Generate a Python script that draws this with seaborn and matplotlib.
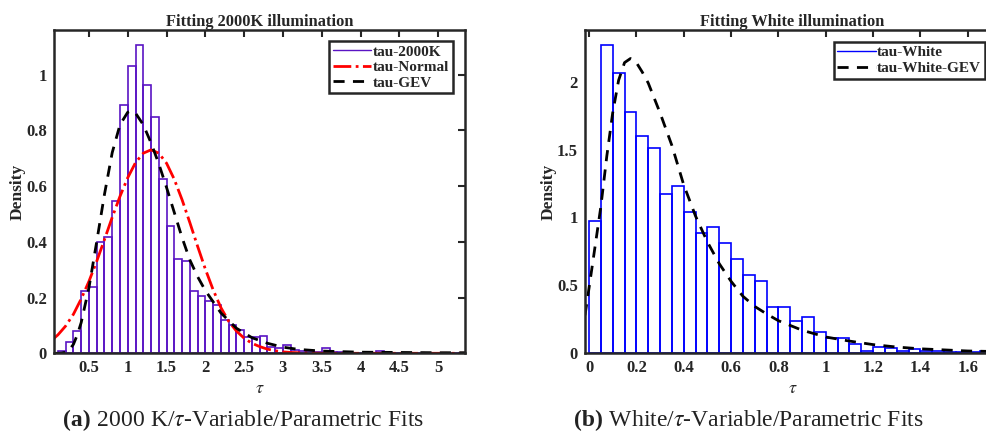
import numpy as np
import pandas as pd
import matplotlib
matplotlib.use('Agg')
import matplotlib.pyplot as plt
from matplotlib.lines import Line2D
from matplotlib.ticker import FuncFormatter
import seaborn as sns

# ---- data ----
# left panel: tau histogram for 2000K (bin width 0.1, first bin starts at 0.1)
k_bin_start = 0.1
k_bin_width = 0.1
k_density = [0.008, 0.042, 0.081, 0.222, 0.237, 0.399, 0.417, 0.545, 0.890, 1.031,
             1.107, 0.963, 0.848, 0.627, 0.456, 0.340, 0.331, 0.225, 0.204, 0.186,
             0.174, 0.120, 0.100, 0.082, 0.057, 0.057, 0.063, 0.021, 0.018, 0.030,
             0.012, 0.010, 0.010, 0.006, 0.018, 0.006, 0.003, 0.002, 0.002, 0.002,
             0.002, 0.010, 0.002, 0.001, 0.001, 0.001, 0.000, 0.001, 0.000, 0.001,
             0.000, 0.000, 0.001]

normal_x = [0.05, 0.1, 0.2, 0.3, 0.4, 0.5, 0.6, 0.7, 0.8, 0.9, 1.0, 1.1, 1.2, 1.3,
            1.4, 1.5, 1.6, 1.7, 1.8, 1.9, 2.0, 2.1, 2.2, 2.3, 2.4, 2.5, 2.6, 2.7,
            2.8, 2.9, 3.0, 3.1, 3.2, 3.3, 3.5, 5.35]
normal_y = [0.054, 0.066, 0.098, 0.140, 0.195, 0.258, 0.330, 0.408, 0.488, 0.563,
            0.630, 0.684, 0.718, 0.730, 0.718, 0.682, 0.624, 0.551, 0.469, 0.384,
            0.302, 0.228, 0.164, 0.115, 0.080, 0.054, 0.036, 0.024, 0.015, 0.009,
            0.005, 0.003, 0.002, 0.001, 0.000, 0.000]

gev_k_x = [0.05, 0.1, 0.15, 0.2, 0.25, 0.3, 0.35, 0.4, 0.5, 0.6, 0.7, 0.8, 0.9, 1.0,
           1.05, 1.1, 1.2, 1.3, 1.4, 1.5, 1.6, 1.7, 1.8, 1.9, 2.0, 2.2, 2.4, 2.6,
           2.8, 3.0, 3.2, 3.5, 4.0, 4.5, 5.0, 5.35]
gev_k_y = [0.0, 0.0, 0.001, 0.004, 0.013, 0.032, 0.066, 0.11, 0.235, 0.40, 0.57, 0.72,
           0.82, 0.865, 0.870, 0.862, 0.82, 0.755, 0.68, 0.595, 0.505, 0.415, 0.335,
           0.275, 0.225, 0.145, 0.09, 0.056, 0.036, 0.022, 0.014, 0.008, 0.004,
           0.003, 0.002, 0.002]

# right panel: tau histogram for White (bin width 0.05, starts at 0)
w_bin_start = 0.0
w_bin_width = 0.05
w_density = [0.975, 2.267, 2.063, 1.777, 1.600, 1.515, 1.176, 1.230, 1.041, 0.882,
             0.930, 0.813, 0.693, 0.576, 0.532, 0.343, 0.343, 0.240, 0.270, 0.154,
             0.115, 0.115, 0.066, 0.020, 0.049, 0.041, 0.015, 0.029, 0.020, 0.015,
             0.010, 0.008, 0.008, 0.020]

gev_w_x = [-0.017, 0.0, 0.025, 0.05, 0.075, 0.1, 0.125, 0.15, 0.175, 0.2, 0.225,
           0.25, 0.3, 0.35, 0.4, 0.45, 0.5, 0.55, 0.6, 0.65, 0.7, 0.75, 0.8, 0.85,
           0.9, 0.95, 1.0, 1.1, 1.2, 1.3, 1.4, 1.5, 1.6, 1.75]
gev_w_y = [0.28, 0.48, 0.78, 1.08, 1.45, 1.77, 2.01, 2.14, 2.17, 2.14, 2.07, 1.99,
           1.77, 1.53, 1.24, 1.01, 0.82, 0.66, 0.53, 0.42, 0.345, 0.29, 0.24, 0.205,
           0.17, 0.145, 0.12, 0.09, 0.064, 0.046, 0.033, 0.025, 0.017, 0.012]

captions = [('(a)', r' 2000 K/$\tau$-Variable/Parametric Fits'),
            ('(b)', r' White/$\tau$-Variable/Parametric Fits')]

purple = '#5a14c4'
blue = '#0000ff'

sns.set_theme(style='white')
plt.rcParams['font.family'] = ['Liberation Serif', 'DejaVu Serif']
plt.rcParams['mathtext.fontset'] = 'stix'
plt.rcParams['axes.edgecolor'] = '#262626'
plt.rcParams['axes.linewidth'] = 1.8

fig = plt.figure(figsize=(9.87, 4.38), dpi=100)
ax1 = fig.add_axes([54/987, 84.7/438, 411/987, 323.3/438])
ax2 = fig.add_axes([585/987, 84.7/438, 415/987, 323.3/438])


def hist(ax, start, width, dens, color):
    edges = [start + width * i for i in range(len(dens) + 1)]
    df = pd.DataFrame({'tau': [e + width / 2 for e in edges[:-1]], 'dens': dens})
    sns.histplot(data=df, x='tau', weights='dens', bins=edges, stat='count',
                 fill=False, element='bars', color=color, linewidth=1.2, ax=ax)


def style(ax, title, xlim, ylim, xticks, yticks):
    ax.set_xlim(*xlim)
    ax.set_ylim(*ylim)
    ax.set_xticks(xticks)
    ax.set_yticks(yticks)
    fmt = FuncFormatter(lambda v, p: f'{v:g}')
    ax.xaxis.set_major_formatter(fmt)
    ax.yaxis.set_major_formatter(fmt)
    ax.tick_params(direction='in', length=5, width=1.5, top=True, right=True,
                   labelsize=12, colors='#262626', pad=5)
    for lab in ax.get_xticklabels() + ax.get_yticklabels():
        lab.set_fontweight('bold')
    ax.set_title(title, fontsize=11.8, fontweight='bold', pad=3)
    ax.set_xlabel(r'$\tau$', fontsize=13, labelpad=3)
    ax.set_ylabel('Density', fontsize=12.5, fontweight='bold', labelpad=0)
    for s in ax.spines.values():
        s.set_visible(True)


leg_kw = dict(loc='upper right', fancybox=False, framealpha=1, edgecolor='#262626',
              prop={'weight': 'bold', 'size': 11}, handlelength=2.5,
              handletextpad=0.1, labelspacing=0.12, borderpad=0.25, borderaxespad=0)

hist(ax1, k_bin_start, k_bin_width, k_density, purple)
sns.lineplot(x=normal_x, y=normal_y, ax=ax1, color='red', linestyle='-.', linewidth=2)
sns.lineplot(x=gev_k_x, y=gev_k_y, ax=ax1, color='black', linestyle=(0, (4, 3)), linewidth=2)
style(ax1, 'Fitting 2000K illumination', (0.05, 5.345), (0, 1.16),
      np.arange(0.5, 5.01, 0.5), np.arange(0, 1.01, 0.2))
h1 = [Line2D([], [], color=purple, lw=1),
      Line2D([], [], color='red', lw=2, ls='-.'),
      Line2D([], [], color='black', lw=2, ls=(0, (4, 3)))]
leg1 = ax1.legend(h1, ['tau-2000K', 'tau-Normal', 'tau-GEV'],
                  bbox_to_anchor=(0.97, 0.966), **leg_kw)
leg1.get_frame().set_linewidth(1.8)

hist(ax2, w_bin_start, w_bin_width, w_density, blue)
sns.lineplot(x=gev_w_x, y=gev_w_y, ax=ax2, color='black', linestyle=(0, (4, 3)), linewidth=2)
style(ax2, 'Fitting White illumination', (-0.017, 1.736), (0, 2.38),
      np.arange(0, 1.61, 0.2), np.arange(0, 2.01, 0.5))
h2 = [Line2D([], [], color=blue, lw=1),
      Line2D([], [], color='black', lw=2, ls=(0, (4, 3)))]
leg2 = ax2.legend(h2, ['tau-White', 'tau-White-GEV'],
                  bbox_to_anchor=(400/415, 0.963), **leg_kw)
leg2.get_frame().set_linewidth(1.8)

# sub-captions: bold tag followed by plain text
for x0, (tag, rest) in zip([63, 574], captions):
    t = fig.text(x0/987, 0.040, tag, fontsize=17, fontweight='bold', va='center',
                 color='#222222')
    fig.canvas.draw()
    ax1.annotate(rest, xy=(1, 0.5), xycoords=t, va='center', ha='left',
                 fontsize=17, color='#222222', annotation_clip=False)

fig.savefig('out.png', dpi=100)
